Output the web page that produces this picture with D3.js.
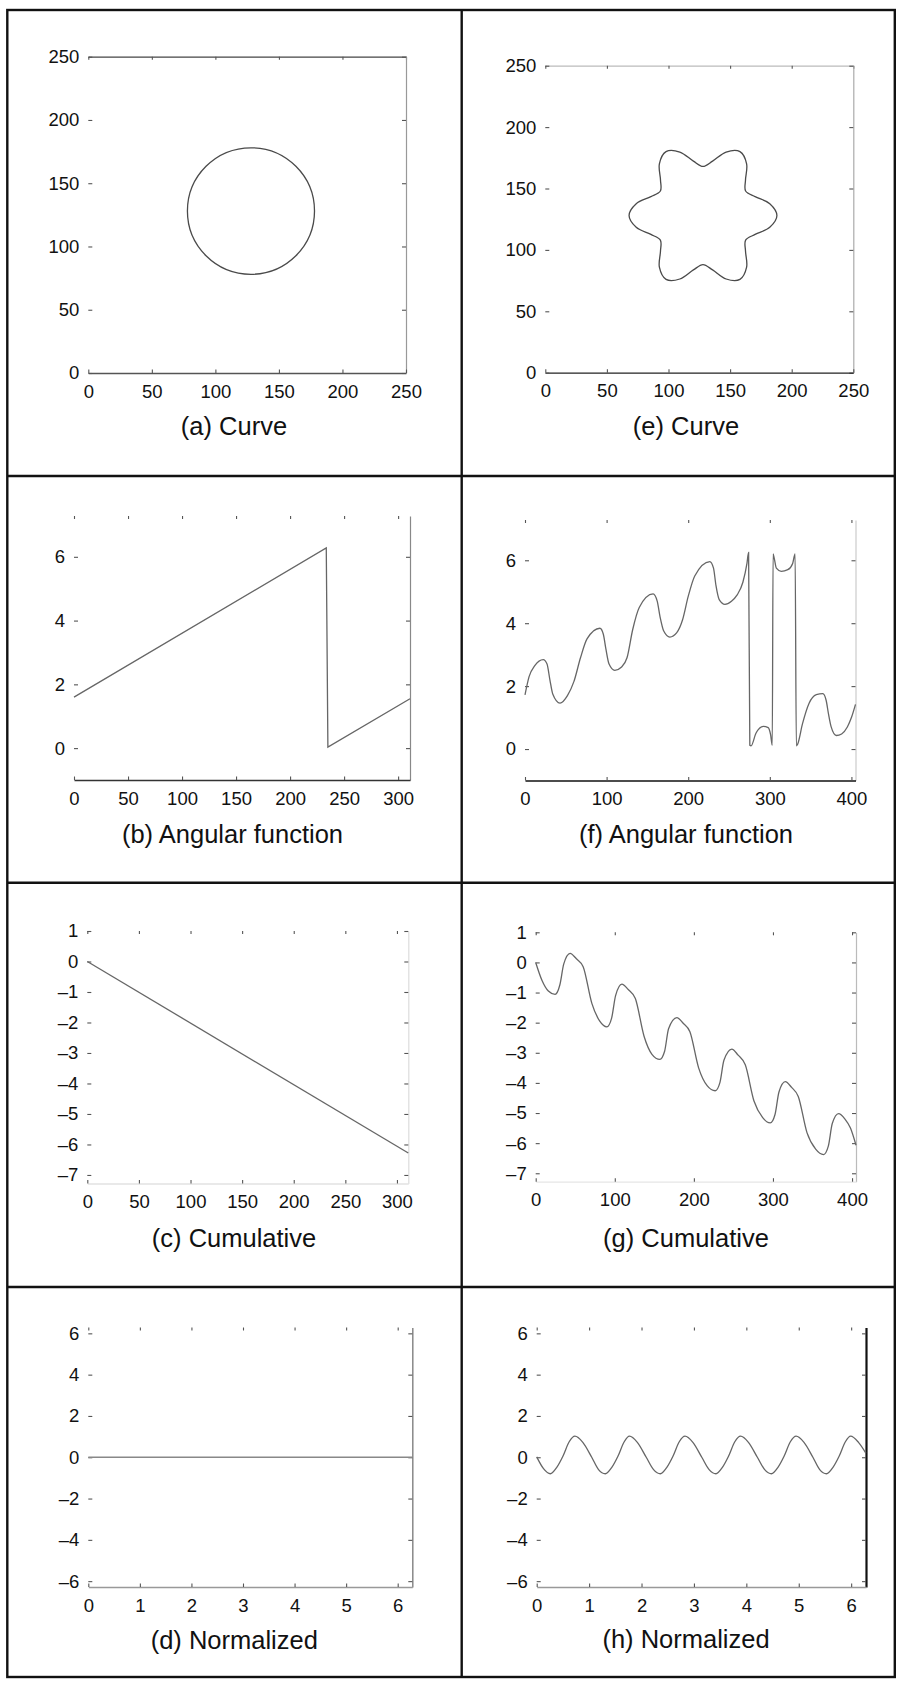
<!DOCTYPE html>
<html>
<head>
<meta charset="utf-8">
<script src="https://cdn.jsdelivr.net/npm/d3@7"></script>
<style>
  html, body { margin: 0; padding: 0; background: #fff; }
  svg text { font-family: "Liberation Sans", Arial, Helvetica, sans-serif; fill: #111; }
</style>
</head>
<body>
<svg id="fig" width="898" height="1681"></svg>
<script>
const TAU = 2 * Math.PI;

// ---- (a) circle: centre and radius in image coordinates
const circleCenter = [128, 128];
const circleRadius = 50;

// ---- (e) six-lobed contour, traced counter-clockwise from the right lobe tip
const flowerOutline = [
  [188.0, 128.0], [182.2, 137.6], [170.3, 143.4], [162.6, 148.0], [162.5, 156.9], [163.4, 170.1],
  [158.0, 180.0], [146.8, 179.7], [135.8, 172.3], [128.0, 168.0], [120.2, 172.3], [109.2, 179.7],
  [98.0, 180.0], [92.6, 170.1], [93.5, 156.9], [93.4, 148.0], [85.7, 143.4], [73.8, 137.6],
  [68.0, 128.0], [73.8, 118.4], [85.7, 112.6], [93.4, 108.0], [93.5, 99.1], [92.6, 85.9],
  [98.0, 76.0], [109.2, 76.3], [120.2, 83.7], [128.0, 88.0], [135.8, 83.7], [146.8, 76.3],
  [158.0, 76.0], [163.4, 85.9], [162.5, 99.1], [162.6, 108.0], [170.3, 112.6], [182.2, 118.4]
];

// ---- (b) angular function of the circle (arc length, angle)
const angularCircle = [[0, 1.6], [233.5, 6.28], [235, 0.03], [311, 1.55]];

// ---- (f) angular function of the six-lobed contour
const angularFlower = [
  [0, 1.72], [5, 2.3], [12, 2.65], [22.4, 2.84], [27, 2.7], [30.5, 2.2], [34, 1.75], [42.9, 1.46],
  [52, 1.7], [60, 2.15], [68, 2.9], [76, 3.5], [91.8, 3.84], [96, 3.65], [99, 3.2], [103, 2.7],
  [110, 2.5], [118, 2.6], [125, 2.9], [132, 3.8], [140, 4.5], [157, 4.93], [162, 4.7], [165.5, 4.2],
  [170, 3.75], [177.5, 3.56], [186, 3.7], [193, 4.1], [200, 4.85], [208, 5.5], [226.5, 5.96],
  [231, 5.75], [234, 5.2], [238, 4.75], [245, 4.6], [253, 4.7], [260, 4.9], [267, 5.3], [272, 5.9],
  [274, 6.25], [275.5, 0.12], [277, 0.1], [283, 0.5], [292, 0.72], [298, 0.68], [301, 0.45],
  [303, 0.12], [304, 6.2], [305.5, 6.05], [308, 5.75], [314, 5.65], [322, 5.7], [328, 5.9],
  [331, 6.2], [332.5, 0.1], [334, 0.15], [340, 0.8], [348, 1.45], [357, 1.73], [365, 1.76],
  [369, 1.55], [372, 1.1], [375, 0.72], [381.6, 0.43], [388, 0.48], [395, 0.7], [400, 1.0], [405, 1.42]
];

// ---- (c) cumulative angular function of the circle
const cumulativeCircle = [[0, 0], [311, -6.28]];

// ---- (g) cumulative angular function of the six-lobed contour
const cumulativeFlower = [
  [0, 0], [8, -0.6], [16, -0.95], [24.5, -1.06], [30.5, -0.75], [35.5, -0.05], [43.5, 0.3],
  [51.5, 0.12], [60, -0.14], [71, -1.36], [81, -1.95], [90, -2.14],
  [96, -1.85], [101, -1.1], [109, -0.72], [117, -0.9], [126, -1.2], [137, -2.45], [147, -3.05], [157, -3.22],
  [163, -2.95], [168, -2.2], [178.5, -1.83], [186.5, -2.02], [195, -2.3], [206, -3.5], [217, -4.1], [227, -4.26],
  [233, -3.98], [238, -3.25], [248, -2.88], [256, -3.08], [265, -3.4], [276, -4.6], [287, -5.15], [296.6, -5.33],
  [302.6, -5.05], [307.6, -4.3], [315.6, -3.96], [323.6, -4.15], [332, -4.45], [343, -5.65], [354, -6.2], [364, -6.38],
  [370, -6.1], [375, -5.35], [383, -5.02], [391, -5.2], [398, -5.5], [405, -6.07]
];

// ---- (d) normalized function of the circle
const normalizedCircle = [[0, 0], [TAU, 0]];

// ---- (h) normalized function of the six-lobed contour
const normalizedFlower = [
  [0, 0.02], [0.13, -0.55], [0.26, -0.8], [0.38, -0.5], [0.50, 0.05], [0.62, 0.75], [0.73, 1.02],
  [0.88, 0.72], [1.05, 0.0], [1.18, -0.6], [1.31, -0.8], [1.43, -0.5], [1.55, 0.05], [1.67, 0.75],
  [1.77, 1.02], [1.92, 0.72], [2.09, 0.0], [2.23, -0.6], [2.36, -0.8], [2.48, -0.5], [2.60, 0.05],
  [2.72, 0.75], [2.83, 1.02], [2.98, 0.72], [3.15, 0.0], [3.29, -0.6], [3.42, -0.8], [3.54, -0.5],
  [3.66, 0.05], [3.78, 0.75], [3.89, 1.02], [4.04, 0.72], [4.21, 0.0], [4.35, -0.6], [4.48, -0.8],
  [4.60, -0.5], [4.72, 0.05], [4.84, 0.75], [4.95, 1.02], [5.10, 0.72], [5.27, 0.0], [5.40, -0.6],
  [5.53, -0.8], [5.65, -0.5], [5.77, 0.05], [5.89, 0.75], [5.99, 1.02], [6.14, 0.72], [6.28, 0.2]
];

// ---- tick values
const curveTicks = [0, 50, 100, 150, 200, 250];
const circleLengthTicks = [0, 50, 100, 150, 200, 250, 300];
const flowerLengthTicks = [0, 100, 200, 300, 400];
const angleTicks = [0, 2, 4, 6];
const cumulativeTicks = [1, 0, -1, -2, -3, -4, -5, -6, -7];
const normXTicks = [0, 1, 2, 3, 4, 5, 6];
const normYTicks = [-6, -4, -2, 0, 2, 4, 6];

// ---- captions
const captions = {
  a: "(a) Curve", b: "(b) Angular function", c: "(c) Cumulative", d: "(d) Normalized",
  e: "(e) Curve", f: "(f) Angular function", g: "(g) Cumulative", h: "(h) Normalized"
};

const svg = d3.select("#fig");
svg.append("rect").attr("width", 898).attr("height", 1681).attr("fill", "#fff");

const fmt = d => (d < 0 ? "\u2013" + Math.abs(d) : String(d));
const tickColor = "#555";
const lineColor = "#4a4a4a";

function styleAxis(sel) {
  sel.attr("font-size", null).attr("font-family", null);
  sel.selectAll(".tick line").attr("stroke", tickColor).attr("stroke-width", 1.1);
  sel.selectAll(".tick text").attr("font-size", 18.5).attr("fill", "#111");
}

function drawPanel(p) {
  const g = svg.append("g");
  const x = d3.scaleLinear().domain(p.xDomain).range([p.left, p.right]);
  const y = d3.scaleLinear().domain(p.yDomain).range([p.bottom, p.top]);

  // top edge: ticks pointing down, optional line
  const top = g.append("g").attr("transform", `translate(0,${p.top})`)
    .call(d3.axisTop(x).tickValues(p.xTicks).tickSizeInner(-3).tickSizeOuter(0).tickFormat(""));
  styleAxis(top);
  top.select(".domain").attr("stroke", p.topColor || "none").attr("stroke-width", 1.2);

  // right edge
  const right = g.append("g").attr("transform", `translate(${p.right},0)`)
    .call(d3.axisRight(y).tickValues(p.yTicks).tickSizeInner(-4).tickSizeOuter(0).tickFormat(""));
  styleAxis(right);
  right.select(".domain").attr("stroke", p.rightColor).attr("stroke-width", p.rightWidth || 1.2);

  // bottom axis with labels
  const bottom = g.append("g").attr("transform", `translate(0,${p.bottom})`)
    .call(d3.axisBottom(x).tickValues(p.xTicks).tickSizeInner(-3.5).tickSizeOuter(0)
      .tickPadding(11.5).tickFormat(p.xFormat || fmt));
  styleAxis(bottom);
  bottom.select(".domain").attr("stroke", p.bottomColor).attr("stroke-width", p.bottomWidth || 1.3);

  // left axis: labels and inward ticks only
  const left = g.append("g").attr("transform", `translate(${p.left},0)`)
    .call(d3.axisLeft(y).tickValues(p.yTicks).tickSizeInner(-4).tickSizeOuter(0)
      .tickPadding(9).tickFormat(fmt));
  styleAxis(left);
  left.select(".domain").remove();

  p.draw(g, x, y);

  g.append("text").attr("x", p.capX).attr("y", p.capY)
    .attr("text-anchor", "middle").attr("font-size", 25.5).text(p.caption);
}

const line = (x, y, curve) => d3.line().x(d => x(d[0])).y(d => y(d[1])).curve(curve);

const panels = [
  { // (a)
    left: 88.3, right: 406, top: 56.7, bottom: 373,
    xDomain: [0, 250], yDomain: [0, 250], xTicks: curveTicks, yTicks: curveTicks,
    topColor: "#444", rightColor: "#999", bottomColor: "#555",
    caption: captions.a, capX: 234, capY: 435,
    draw: (g, x, y) => g.append("ellipse")
      .attr("cx", x(circleCenter[0])).attr("cy", y(circleCenter[1]))
      .attr("rx", x(circleRadius) - x(0)).attr("ry", y(0) - y(circleRadius))
      .attr("fill", "none").attr("stroke", lineColor).attr("stroke-width", 1.3)
  },
  { // (e)
    left: 545.3, right: 853.3, top: 65.7, bottom: 372.7,
    xDomain: [0, 250], yDomain: [0, 250], xTicks: curveTicks, yTicks: curveTicks,
    topColor: "#bbb", rightColor: "#aaa", bottomColor: "#222",
    caption: captions.e, capX: 686, capY: 435,
    draw: (g, x, y) => g.append("path").datum(flowerOutline)
      .attr("d", line(x, y, d3.curveCatmullRomClosed))
      .attr("fill", "none").attr("stroke", lineColor).attr("stroke-width", 1.3)
  },
  { // (b)
    left: 74, right: 410, top: 516, bottom: 780,
    xDomain: [0, 311], yDomain: [-1, 7.28], xTicks: circleLengthTicks, yTicks: angleTicks,
    rightColor: "#888", bottomColor: "#333",
    caption: captions.b, capX: 232.5, capY: 843.3,
    draw: (g, x, y) => g.append("path").datum(angularCircle)
      .attr("d", line(x, y, d3.curveLinear))
      .attr("fill", "none").attr("stroke", "#666").attr("stroke-width", 1.3)
  },
  { // (f)
    left: 525, right: 855.5, top: 520, bottom: 780.5,
    xDomain: [0, 405], yDomain: [-1, 7.28], xTicks: flowerLengthTicks, yTicks: angleTicks,
    rightColor: "#ccc", bottomColor: "#111", bottomWidth: 1.6,
    caption: captions.f, capX: 686, capY: 843.3,
    draw: (g, x, y) => g.append("path").datum(angularFlower)
      .attr("d", line(x, y, d3.curveMonotoneX))
      .attr("fill", "none").attr("stroke", "#666").attr("stroke-width", 1.3)
  },
  { // (c)
    left: 87.3, right: 408.3, top: 931, bottom: 1183.5,
    xDomain: [0, 311], yDomain: [-7.28, 1], xTicks: circleLengthTicks, yTicks: cumulativeTicks,
    rightColor: "#ddd", bottomColor: "#e2e2e2",
    caption: captions.c, capX: 234, capY: 1246.7,
    draw: (g, x, y) => g.append("path").datum(cumulativeCircle)
      .attr("d", line(x, y, d3.curveLinear))
      .attr("fill", "none").attr("stroke", "#666").attr("stroke-width", 1.3)
  },
  { // (g)
    left: 535.7, right: 856, top: 932.3, bottom: 1181.7,
    xDomain: [0, 405], yDomain: [-7.28, 1], xTicks: flowerLengthTicks, yTicks: cumulativeTicks,
    rightColor: "#bbb", bottomColor: "#e6e6e6",
    caption: captions.g, capX: 686, capY: 1246.7,
    draw: (g, x, y) => g.append("path").datum(cumulativeFlower)
      .attr("d", line(x, y, d3.curveMonotoneX))
      .attr("fill", "none").attr("stroke", "#666").attr("stroke-width", 1.3)
  },
  { // (d)
    left: 88.3, right: 412.3, top: 1327.5, bottom: 1587,
    xDomain: [0, TAU], yDomain: [-TAU, TAU], xTicks: normXTicks, yTicks: normYTicks,
    rightColor: "#888", rightWidth: 1.5, bottomColor: "#999",
    caption: captions.d, capX: 234.3, capY: 1649,
    draw: (g, x, y) => g.append("path").datum(normalizedCircle)
      .attr("d", line(x, y, d3.curveLinear))
      .attr("fill", "none").attr("stroke", "#888").attr("stroke-width", 1.6)
  },
  { // (h)
    left: 536.7, right: 866, top: 1327.5, bottom: 1587,
    xDomain: [0, TAU], yDomain: [-TAU, TAU], xTicks: normXTicks, yTicks: normYTicks,
    rightColor: "#111", rightWidth: 2.2, bottomColor: "#999",
    caption: captions.h, capX: 686, capY: 1648,
    draw: (g, x, y) => g.append("path").datum(normalizedFlower)
      .attr("d", line(x, y, d3.curveMonotoneX))
      .attr("fill", "none").attr("stroke", "#666").attr("stroke-width", 1.3)
  }
];

panels.forEach(drawPanel);

// table frame around the eight panels
const frame = svg.append("g").attr("stroke", "#111").attr("stroke-width", 2.4).attr("fill", "none");
frame.append("rect").attr("x", 7.3).attr("y", 10).attr("width", 887.5).attr("height", 1667);
frame.append("line").attr("x1", 461.7).attr("x2", 461.7).attr("y1", 10).attr("y2", 1677);
[476, 882.7, 1287].forEach(yy =>
  frame.append("line").attr("x1", 7.3).attr("x2", 894.8).attr("y1", yy).attr("y2", yy));
</script>
</body>
</html>
